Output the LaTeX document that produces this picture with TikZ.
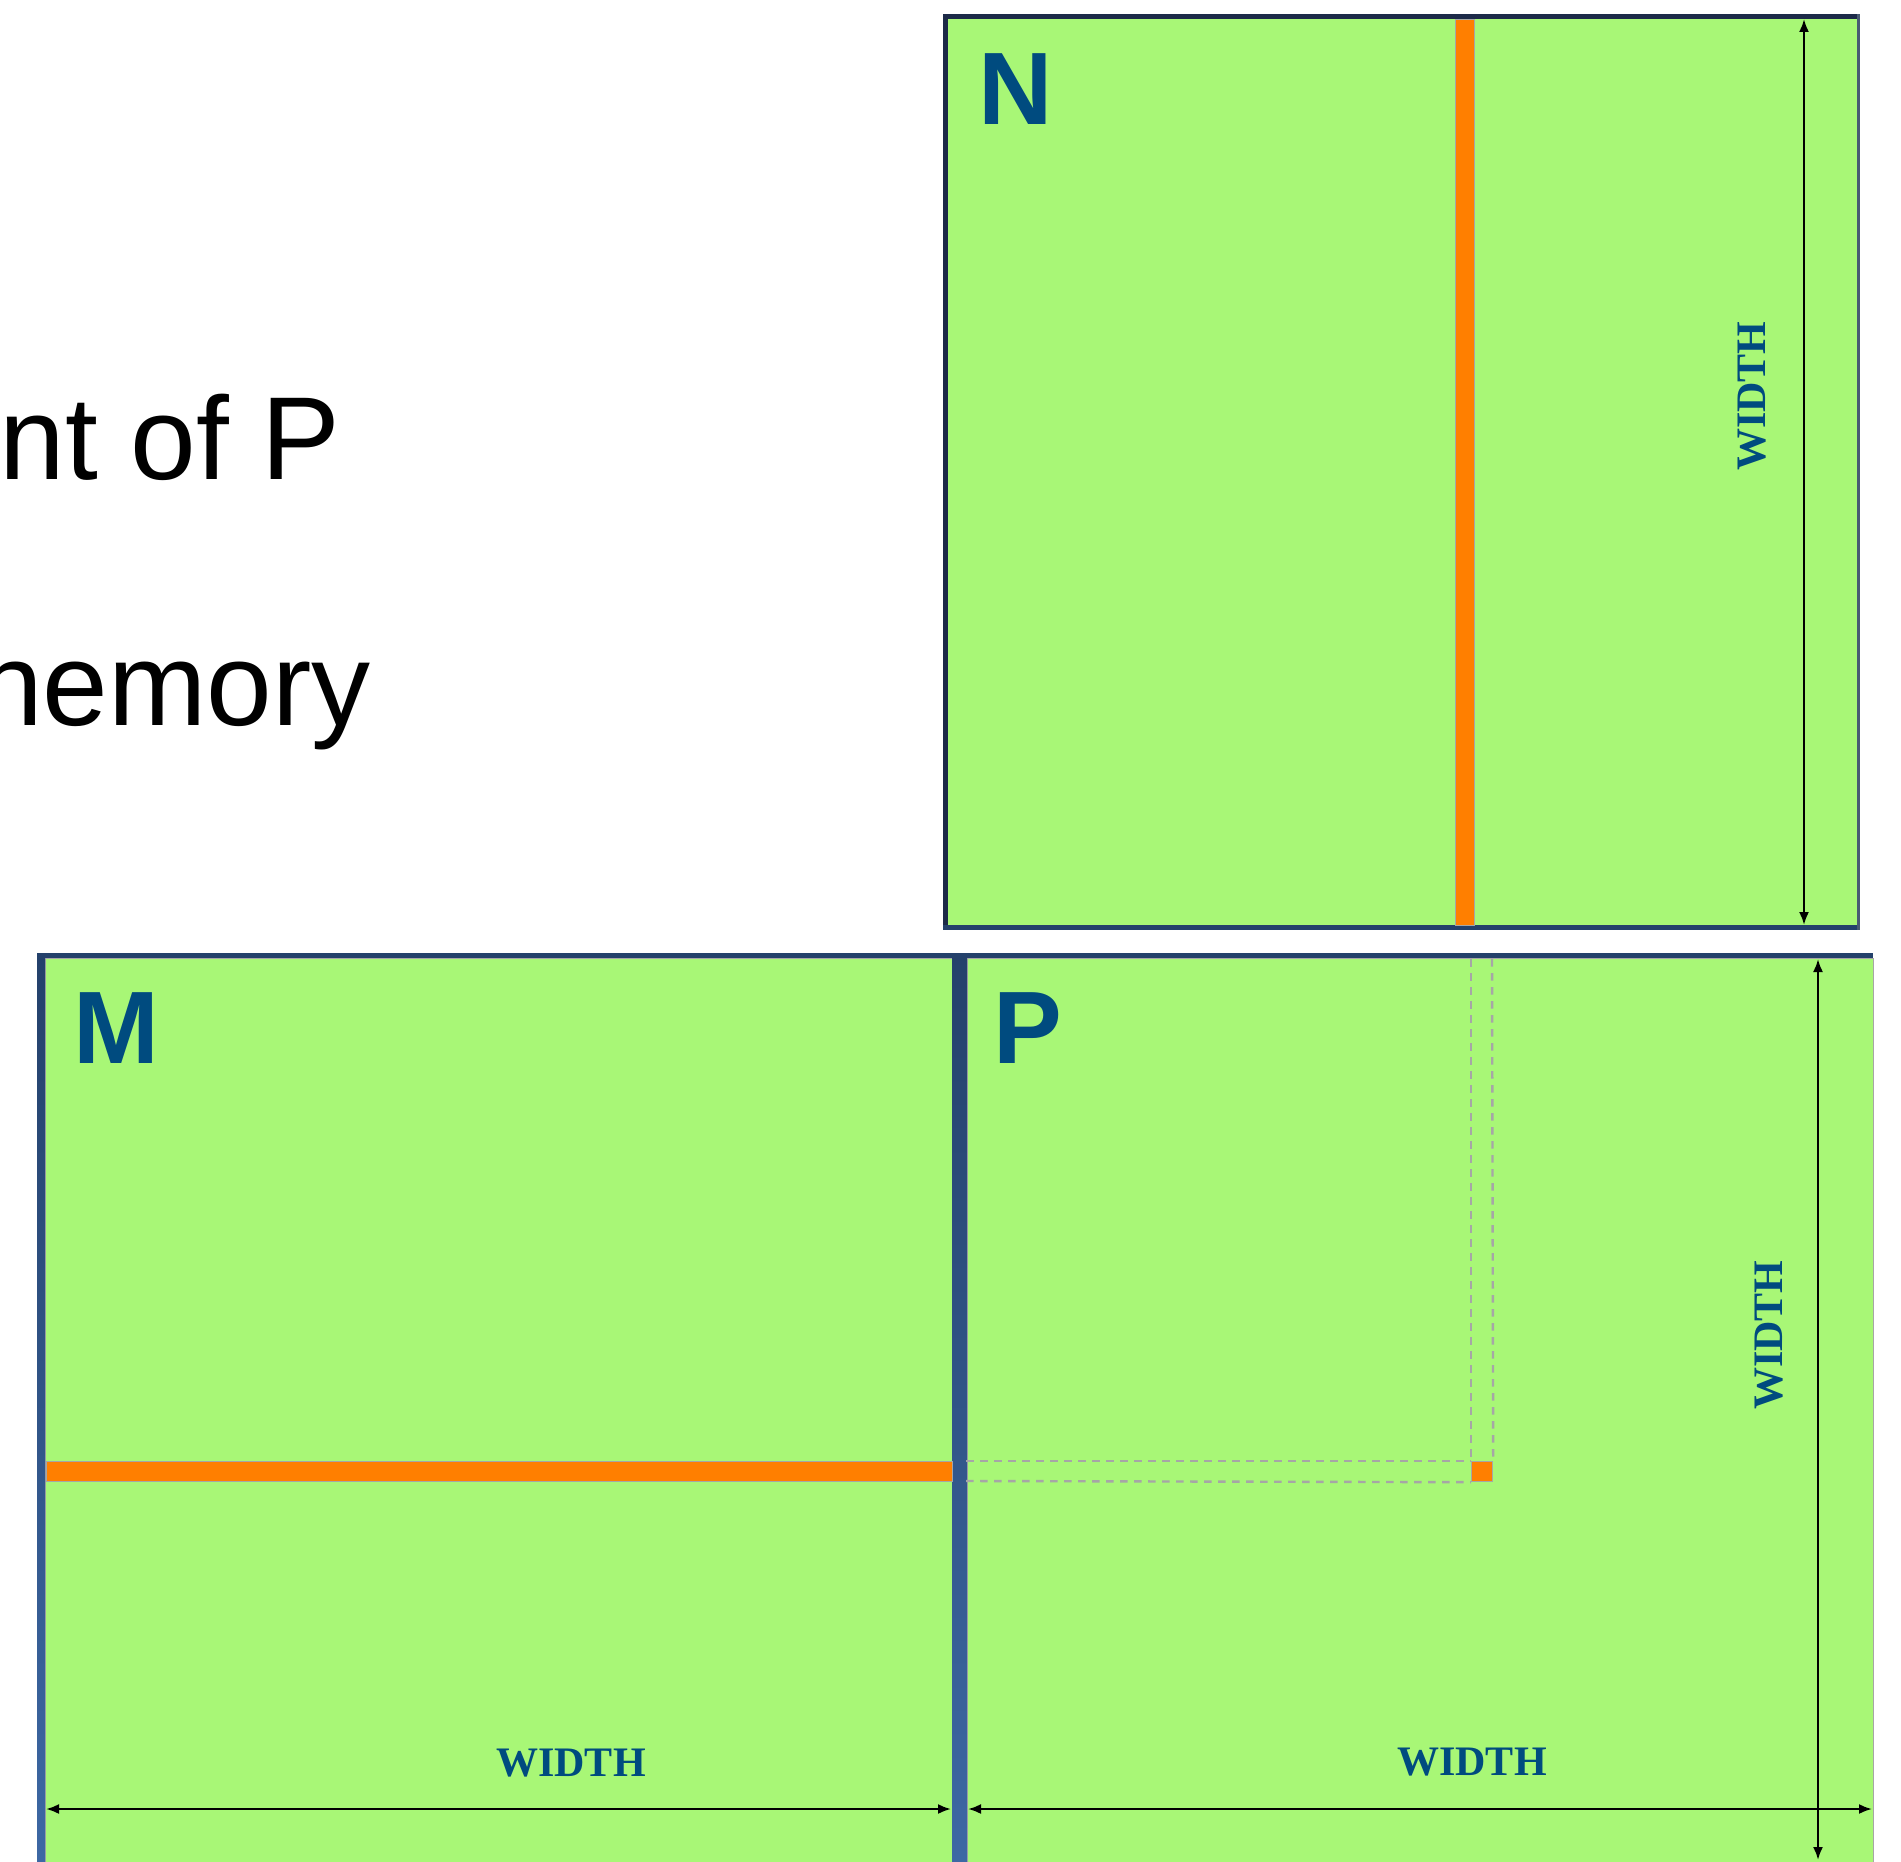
\documentclass[tikz,border=0pt]{standalone}
\usepackage{fontspec}
\setmainfont{Liberation Sans}
\newfontfamily\serifb{Liberation Serif}
\usetikzlibrary{arrows.meta}
\definecolor{mgreen}{HTML}{A8F776}
\definecolor{morange}{HTML}{FF7F00}
\definecolor{mnavy}{HTML}{1C2A48}
\definecolor{mblue}{HTML}{24416B}
\definecolor{mlblue}{HTML}{3D68A4}
\definecolor{mtext}{HTML}{004B7F}
\definecolor{mgray}{HTML}{A6A6A6}
\tikzset{
  mat/.style={fill=mgreen, draw=mgray, line width=0.5pt, inner sep=0pt, anchor=north west},
  biglab/.style={anchor=base west, inner sep=0pt, text=mtext, font=\fontsize{51.5}{60}\selectfont\bfseries},
  widthlab/.style={inner sep=0pt, text=mtext, font=\serifb\bfseries\fontsize{21}{24}\selectfont},
  bigtext/.style={anchor=base east, inner sep=0pt, font=\fontsize{59}{70}\selectfont},
  bar/.style={fill=morange, draw=mgray, line width=0.6pt},
  dimarrow/.style={draw=black, line width=1.1pt, {Latex[length=6.5pt,width=5pt]}-{Latex[length=6.5pt,width=5pt]}},
  guide/.style={draw=mgray, line width=1.2pt, dash pattern=on 3.8pt off 3.2pt}
}
\begin{document}
\begin{tikzpicture}[x=0.5pt,y=-0.5pt]
\useasboundingbox (0,0) rectangle (1901,1862);
\begin{scope}
\clip (0,0) rectangle (1901,1862);
% left text (cropped)
\node[bigtext] (t1) at (341,479) {nt of P};
\node[bigtext] (t2) at (371,725) {nemory};

% ---------- N matrix ----------
\node[mat, minimum width=457pt, minimum height=456pt] (N) at (945,16) {};
\fill[mnavy] (943,14) rectangle (1860,19);
\fill[mnavy] (943,14) rectangle (948,930);
\fill[mblue] (943,925) rectangle (1860,930);
\fill[mblue!60!gray] (1857,14) rectangle (1860,930);
\node[bar, minimum width=9.5pt, minimum height=453pt, inner sep=0pt, anchor=north west] (Nbar) at (1455,19) {};
\node[biglab] (Nlab) at (978,125) {N};
\coordinate (Ntop) at (1804,19);
\coordinate (Nbot) at (1804,925);
\draw[dimarrow] (Ntop) -- (Nbot);
\node[widthlab, rotate=90] (Nw) at (1752,396) {WIDTH};

% ---------- M and P matrices ----------
\node[mat, minimum width=453.5pt, minimum height=452pt] (M) at (45,958) {};
\node[mat, minimum width=453pt, minimum height=452pt] (P) at (967,958) {};
\fill[mblue] (37,953) rectangle (1873,958);
\shade[top color=mblue, bottom color=mlblue] (37,953) rectangle (45,1862);
\shade[top color=mblue, bottom color=mlblue] (952,953) rectangle (967,1862);

% orange row of M, element of P
\node[bar, minimum width=453pt, minimum height=10pt, inner sep=0pt, anchor=north west] (Mbar) at (46,1461) {};
\node[bar, minimum width=10.5pt, minimum height=10pt, inner sep=0pt, anchor=north west] (Pel) at (1471,1461) {};

% dashed guides
\coordinate (h1a) at (966,1461);
\coordinate (h2a) at (966,1481);
\draw[guide] (h1a) -- (Pel.north west);
\draw[guide] (h2a) -- (Pel.south west);
\coordinate (v1a) at (1471,959);
\coordinate (v2a) at (1492,959);
\draw[guide] (v1a) -- (Pel.north west);
\draw[guide] (v2a) -- (Pel.north east);

\node[biglab] (Mlab) at (73,1063) {M};
\node[biglab] (Plab) at (993,1063) {P};

% dimension arrows
\coordinate (Ma) at (46,1809);
\coordinate (Mb) at (951,1809);
\draw[dimarrow] (Ma) -- (Mb);
\coordinate (Pa) at (968,1809);
\coordinate (Pb) at (1872,1809);
\draw[dimarrow] (Pa) -- (Pb);
\coordinate (Pt) at (1818,959);
\coordinate (Pd) at (1818,1860);
\draw[dimarrow] (Pt) -- (Pd);

\node[widthlab] (Mw) at (571,1763) {WIDTH};
\node[widthlab] (Pw) at (1472,1762) {WIDTH};
\node[widthlab, rotate=90] (Pvw) at (1769,1335) {WIDTH};
\end{scope}
\end{tikzpicture}
\end{document}
